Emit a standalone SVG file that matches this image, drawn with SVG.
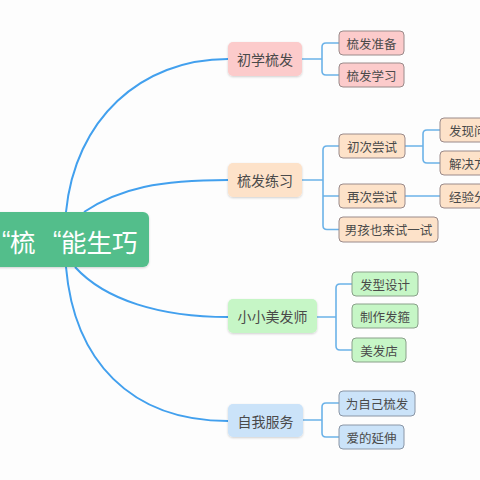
<svg xmlns="http://www.w3.org/2000/svg" width="480" height="480" viewBox="0 0 480 480">
<defs>
<filter id="sh" x="-10%" y="-20%" width="120%" height="150%">
<feDropShadow dx="0" dy="1" stdDeviation="1" flood-color="#000" flood-opacity="0.18"/>
</filter>
</defs>
<style>
text{font-family:"Noto Sans CJK SC","Noto Sans",sans-serif;fill:#4a4a4a;dominant-baseline:central;text-anchor:middle}
.t{font-size:14px}
.s{font-size:12.5px}
.c{font-size:25.5px;fill:#fff;text-anchor:start}
.q{font-family:"Liberation Sans","Noto Sans CJK SC",sans-serif}
.main{stroke:#42A0EE;stroke-width:2;fill:none}
.br{stroke:#6BB2E8;stroke-width:1.6;fill:none}
.pk{fill:#FCCBCB}
.pe{fill:#FDE2C9}
.gr{fill:#C6F6C6}
.bl{fill:#CBE3F9}
.sub{stroke:#9A8A8A;stroke-width:1}
.subg{stroke:#8AA08A;stroke-width:1}
.subb{stroke:#8A96A6;stroke-width:1}
</style>
<rect width="480" height="480" fill="#fdfdfd"/>
<g id="connectors">
<path class="main" d="M66,212 C75,120 140,59 228,59"/>
<path class="main" d="M84,212 C120,188 160,180 228,180"/>
<path class="main" d="M75,267 C105,300 160,317 228,317"/>
<path class="main" d="M66,267 C74,360 130,421 228,421"/>
<path class="br" d="M302,59 H322 M339,43 H326 Q322,43 322,47 V71 Q322,75 326,75 H339"/>
<path class="br" d="M302,180 H323 M339,146 H327 Q323,146 323,150 V225.5 Q323,229.5 327,229.5 H339 M323,196 H339"/>
<path class="br" d="M405,146 H423 M440,130 H427 Q423,130 423,134 V159 Q423,163 427,163 H440"/>
<path class="br" d="M405,196 H440"/>
<path class="br" d="M317,317 H336 M352,284 H340 Q336,284 336,288 V346 Q336,350 340,350 H352"/>
<path class="br" d="M303,420 H322 M339,403 H326 Q322,403 322,407 V433 Q322,437 326,437 H339"/>
</g>
<g id="center">
<rect x="-20" y="212" width="169" height="55" rx="6" fill="#52BE8B" filter="url(#sh)"/>
<text class="c" y="240"><tspan class="q" x="2">“</tspan><tspan x="10">梳</tspan><tspan class="q" x="53">“</tspan><tspan x="61">能生巧</tspan></text>
</g>
<g id="t1">
<rect class="pk" x="228" y="42" width="74" height="34" rx="5" filter="url(#sh)"/>
<text class="t" x="265" y="59">初学梳发</text>
</g>
<g id="s1a"><rect class="pk sub" x="339" y="31" width="65" height="24" rx="4"/><text class="s" x="371.5" y="43">梳发准备</text></g>
<g id="s1b"><rect class="pk sub" x="339" y="63" width="65" height="24" rx="4"/><text class="s" x="371.5" y="75">梳发学习</text></g>
<g id="t2">
<rect class="pe" x="228" y="163" width="74" height="34" rx="5" filter="url(#sh)"/>
<text class="t" x="265" y="180">梳发练习</text>
</g>
<g id="s2a"><rect class="pe sub" x="339" y="134" width="66" height="24" rx="4"/><text class="s" x="372" y="146">初次尝试</text></g>
<g id="s2b"><rect class="pe sub" x="339" y="184" width="66" height="24" rx="4"/><text class="s" x="372" y="196">再次尝试</text></g>
<g id="s2c"><rect class="pe sub" x="339" y="217" width="99" height="25" rx="4"/><text class="s" x="388.5" y="229.5">男孩也来试一试</text></g>
<g id="s3a"><rect class="pe sub" x="440" y="118" width="60" height="24" rx="4"/><text class="s" x="449" y="130" style="text-anchor:start">发现问</text></g>
<g id="s3b"><rect class="pe sub" x="440" y="151" width="60" height="24" rx="4"/><text class="s" x="449" y="163" style="text-anchor:start">解决方</text></g>
<g id="s3c"><rect class="pe sub" x="440" y="184" width="60" height="24" rx="4"/><text class="s" x="449" y="196" style="text-anchor:start">经验分</text></g>
<g id="t3">
<rect class="gr" x="228" y="299" width="89" height="34" rx="5" filter="url(#sh)"/>
<text class="t" x="272.5" y="316">小小美发师</text>
</g>
<g id="s4a"><rect class="gr subg" x="352" y="272" width="66" height="24" rx="4"/><text class="s" x="385" y="284">发型设计</text></g>
<g id="s4b"><rect class="gr subg" x="352" y="304" width="66" height="24" rx="4"/><text class="s" x="385" y="316">制作发箍</text></g>
<g id="s4c"><rect class="gr subg" x="352" y="338" width="54" height="24" rx="4"/><text class="s" x="379" y="350">美发店</text></g>
<g id="t4">
<rect class="bl" x="228" y="404" width="75" height="33" rx="5" filter="url(#sh)"/>
<text class="t" x="265.5" y="420.5">自我服务</text>
</g>
<g id="s5a"><rect class="bl subb" x="339" y="391" width="76" height="25" rx="4"/><text class="s" x="377" y="403.5">为自己梳发</text></g>
<g id="s5b"><rect class="bl subb" x="339" y="425" width="65" height="24" rx="4"/><text class="s" x="371.5" y="437">爱的延伸</text></g>
</svg>
